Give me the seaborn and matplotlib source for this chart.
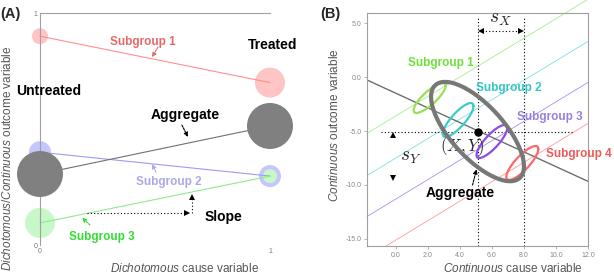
import numpy as np
import matplotlib
matplotlib.use("Agg")
import matplotlib.pyplot as plt
import seaborn as sns

# ---- panel A data: dichotomous cause (0 = untreated, 1 = treated)
groups_a = ["Subgroup 1", "Subgroup 2", "Subgroup 3", "Aggregate"]
untreated_y = [0.90, 0.40, 0.095, 0.306]
treated_y = [0.70, 0.297, 0.297, 0.513]
untreated_size = [8, 11, 15, 23]   # circle radius (px) ~ group size
treated_size = [15, 11, 7, 23]

# ---- panel B data: continuous cause
groups_b = ["Subgroup 1", "Subgroup 2", "Subgroup 3", "Subgroup 4"]
sub_mean_x = [2.11, 3.89, 6.00, 7.90]
sub_mean_y = [-1.94, -3.98, -5.97, -7.96]
sub_sd_x = [1.00, 0.96, 0.96, 1.00]
sub_sd_y = [1.39, 1.57, 1.53, 1.57]
sub_r = [0.82, 0.82, 0.82, 0.82]
sub_intercept = [-3.6, -7.5, -11.3, -15.1]
sub_slope = 0.9

agg_mean_x, agg_mean_y = 5.1, -5.05
agg_sd_x, agg_sd_y, agg_r = 2.9, 4.6, -0.70
agg_line_intercept, agg_line_slope = -1.5, -0.68

x_ticks = [0, 2, 4, 6, 8, 10, 12]
y_ticks = [5, 0, -5, -10, -15]

sns.set_theme(style="white")
plt.rcParams["font.family"] = ["Liberation Sans", "DejaVu Sans"]
plt.rcParams["mathtext.fontset"] = "custom"
plt.rcParams["mathtext.rm"] = "Liberation Sans"
plt.rcParams["mathtext.it"] = "Liberation Sans:italic"

fig = plt.figure(figsize=(6.14, 2.76), dpi=100)
W, H = 614, 276
axA = fig.add_axes([40 / W, 1 - 245 / H, 230 / W, 232 / H])
axB = fig.add_axes([367 / W, 1 - 246 / H, 221 / W, 233 / H])

# ------------------------------------------------------------- panel A
fill_a = ["#ffc4c4", "#c6c6ff", "#c8f7c8", "#808080"]
line_a = ["#ff8f8f", "#9c9cf5", "#8eea8e", "#707070"]
text_a = ["#e46a6a", "#a9a9e8", "#33dd33"]

def px_size(r):
    return (2 * r * 0.72) ** 2

for i in range(3):
    sns.scatterplot(x=[0, 1], y=[untreated_y[i], treated_y[i]], ax=axA,
                    s=np.array([px_size(untreated_size[i]), px_size(treated_size[i])]),
                    color=fill_a[i], edgecolor="none", linewidth=0, clip_on=False,
                    zorder=1 + i * 0.1, legend=False)
for i in range(4):
    axA.plot([0, 1], [untreated_y[i], treated_y[i]], color=line_a[i], lw=0.8,
             zorder=2, clip_on=False)
sns.scatterplot(x=[0, 1], y=[untreated_y[3], treated_y[3]], ax=axA,
                s=np.array([px_size(untreated_size[3]), px_size(treated_size[3])]),
                color=fill_a[3], edgecolor="none", linewidth=0, clip_on=False,
                zorder=3, legend=False)

axA.set_xlim(0, 1)
axA.set_ylim(0, 1)
axA.grid(False)
for s in ["right", "bottom"]:
    axA.spines[s].set_visible(False)
for s in ["left", "top"]:
    axA.spines[s].set_color("#a0a0a0")
    axA.spines[s].set_linewidth(0.8)
axA.set_xticks([0, 1])
axA.set_yticks([0, 1])
axA.set_xticklabels(["0", "1"])
axA.set_yticklabels(["0", "1"])
axA.tick_params(length=0, pad=2, labelsize=5, labelcolor="#777777")

bold = dict(fontweight="bold", ha="center", va="center", clip_on=False)
axA.text(0.448, 0.875, "Subgroup 1", color=text_a[0], fontsize=8.5, **bold)
axA.text(0.561, 0.272, "Subgroup 2", color=text_a[1], fontsize=8.5, **bold)
axA.text(0.270, 0.034, "Subgroup 3", color=text_a[2], fontsize=8.5, **bold)
axA.text(1.013, 0.862, "Treated", color="black", fontsize=10, **bold)
axA.text(0.039, 0.664, "Untreated", color="black", fontsize=10, **bold)
axA.text(0.630, 0.560, "Aggregate", color="black", fontsize=10, **bold)
axA.text(0.796, 0.121, "Slope", color="black", fontsize=10, **bold)

def small_arrow(ax, tail, head, color):
    ax.annotate("", xy=head, xytext=tail,
                arrowprops=dict(arrowstyle="-|>", color=color, lw=0.8,
                                linestyle=(0, (2, 1)), mutation_scale=6,
                                shrinkA=0, shrinkB=0))

small_arrow(axA, (0.513, 0.853), (0.487, 0.810), text_a[0])
small_arrow(axA, (0.504, 0.315), (0.487, 0.349), text_a[1])
small_arrow(axA, (0.217, 0.086), (0.183, 0.118), text_a[2])
small_arrow(axA, (0.617, 0.517), (0.643, 0.466), "black")

# slope triangle on subgroup 3
x0, x1 = 0.204, 0.66
s3 = treated_y[2] - untreated_y[2]
y0 = untreated_y[2] + s3 * x0
y1 = untreated_y[2] + s3 * x1
axA.plot([x0, x1 - 0.01], [y0, y0], color="black", lw=0.8, ls=(0, (1, 2)))
axA.plot([x1, x1], [y0, y1 - 0.02], color="black", lw=0.8, ls=(0, (1, 2)))
axA.plot([x1 - 0.02], [y0], marker=">", color="black", ms=4, mew=0)
axA.plot([x1], [y1 - 0.02], marker="^", color="black", ms=4, mew=0)

# ------------------------------------------------------------- panel B
ell_c = ["#9bde5a", "#3ccaca", "#8a4cf0", "#ff6868"]
line_c = ["#a6ee8a", "#7fe0e0", "#b08cf0", "#ff9a9a"]
text_c = ["#6be23a", "#33c6c6", "#9a80de", "#ee5a5a"]

xlim = (-1.8, 12.0)
ylim = (-15.65, 5.93)

def ellipse(mx, my, sx, sy, r, n=200):
    cov = np.array([[sx ** 2, r * sx * sy], [r * sx * sy, sy ** 2]])
    L = np.linalg.cholesky(cov)
    t = np.linspace(0, 2 * np.pi, n)
    pts = L @ np.vstack([np.cos(t), np.sin(t)])
    return mx + pts[0], my + pts[1]

for i in range(4):
    xs = max(xlim[0], (ylim[0] - sub_intercept[i]) / sub_slope)
    xx = np.array([xs, xlim[1]])
    sns.lineplot(x=xx, y=sub_intercept[i] + sub_slope * xx, ax=axB,
                 color=line_c[i], lw=0.6, clip_on=False, zorder=1)

xx = np.array(xlim)
sns.lineplot(x=xx, y=agg_line_intercept + agg_line_slope * xx, ax=axB,
             color="#6e6e6e", lw=1.0, zorder=2)

dot = dict(color="black", lw=0.8, ls=(0, (1, 2)), zorder=2)
axB.plot([agg_mean_x - 6, agg_mean_x + 6], [agg_mean_y, agg_mean_y], **dot)
axB.plot([agg_mean_x, agg_mean_x], [ylim[0], 5.46], **dot)
axB.plot([agg_mean_x + agg_sd_x] * 2, [ylim[0], 5.46], **dot)

# s_X arrow
ya = 4.26
axB.plot([agg_mean_x + 0.25, agg_mean_x + agg_sd_x - 0.25], [ya, ya], **dot)
axB.plot([agg_mean_x + 0.2], [ya], marker="<", color="black", ms=4, mew=0)
axB.plot([agg_mean_x + agg_sd_x - 0.2], [ya], marker=">", color="black", ms=4, mew=0)
# s_Y arrow heads
xa = -0.19
axB.plot([xa], [agg_mean_y - 0.3], marker="^", color="black", ms=4, mew=0)
axB.plot([xa], [agg_mean_y - agg_sd_y + 0.3], marker="v", color="black", ms=4, mew=0)

for i in range(4):
    ex, ey = ellipse(sub_mean_x[i], sub_mean_y[i], sub_sd_x[i], sub_sd_y[i], sub_r[i])
    axB.plot(ex, ey, color=ell_c[i], lw=1.6, zorder=3)
ex, ey = ellipse(agg_mean_x, agg_mean_y, agg_sd_x, agg_sd_y, agg_r)
axB.plot(ex, ey, color="#777777", lw=3.0, zorder=4)
axB.plot([agg_mean_x], [agg_mean_y], marker="o", color="black", ms=5, zorder=5)

axB.set_xlim(*xlim)
axB.set_ylim(*ylim)
axB.grid(False)
axB.set_xticks(x_ticks)
axB.set_xticklabels([f"{v:.1f}" for v in x_ticks])
axB.set_yticks(y_ticks)
axB.set_yticklabels([f"{v:.1f}" for v in y_ticks])
axB.tick_params(length=2, width=0.5, color="#999999", pad=2, labelsize=5,
                labelcolor="#888888", direction="out")
axB.tick_params(axis="x", bottom=True)
axB.tick_params(axis="y", left=True)
for s in axB.spines.values():
    s.set_color("#a0a0a0")
    s.set_linewidth(0.8)

axB.text(2.80, 1.30, "Subgroup 1", color=text_c[0], fontsize=8.5, **bold)
axB.text(7.03, -1.02, "Subgroup 2", color=text_c[1], fontsize=8.5, **bold)
axB.text(9.64, -3.70, "Subgroup 3", color=text_c[2], fontsize=8.5, **bold)
axB.text(11.44, -7.13, "Subgroup 4", color=text_c[3], fontsize=8.5, **bold)
axB.text(4.04, -10.74, "Aggregate", color="black", fontsize=10, **bold)
small_arrow(axB, (4.79, -10.0), (5.04, -8.55), "black")
axB.text(4.17, -6.48, r"$(X,Y)$", fontsize=12, ha="center", va="center",
         math_fontfamily="cm")
axB.text(6.55, 5.37, r"$s_X$", fontsize=14, ha="center", va="center",
         math_fontfamily="cm", clip_on=False)
axB.text(0.95, -7.41, r"$s_Y$", fontsize=14, ha="center", va="center",
         math_fontfamily="cm")

# panel letters and axis labels
fig.text(10 / W, 1 - 14 / H, "(A)", fontsize=10.5, fontweight="bold", ha="center", va="center")
fig.text(330 / W, 1 - 14 / H, "(B)", fontsize=10.5, fontweight="bold", ha="center", va="center")
lab = dict(fontsize=8.5, color="#555555", ha="center", va="center")
fig.text(8 / W, 1 - 158 / H, r"$\mathit{Dichotomous/Continuous}$ outcome variable",
         rotation=90, **lab)
fig.text(185 / W, 1 - 269 / H, r"$\mathit{Dichotomous}$ cause variable", **lab)
fig.text(335 / W, 1 - 125 / H, r"$\mathit{Continuous}$ outcome variable", rotation=90, **lab)
fig.text(513 / W, 1 - 269 / H, r"$\mathit{Continuous}$ cause variable", **lab)

fig.savefig("out.png", dpi=100)
